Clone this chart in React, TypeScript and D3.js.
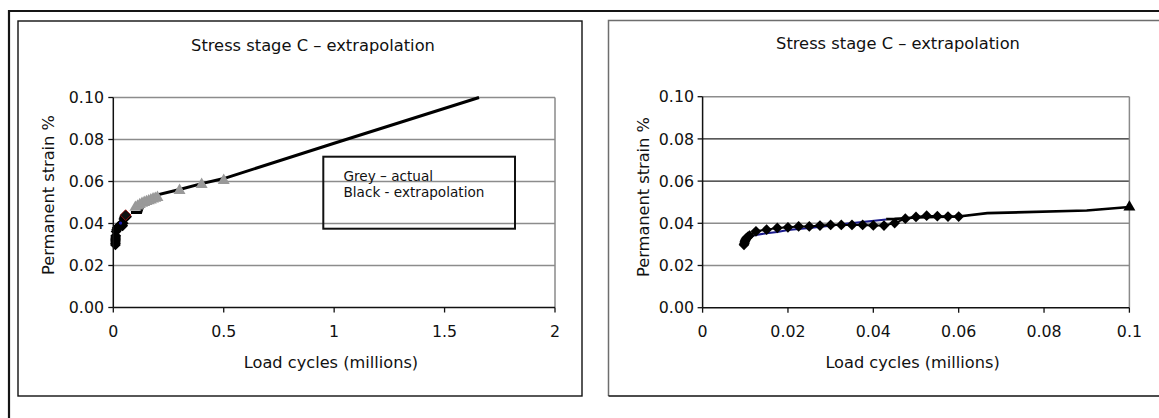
import React from 'react';
import * as d3 from 'd3';

// Axis ticks
const yTicks = [0, 0.02, 0.04, 0.06, 0.08, 0.1];
const leftXTicks = [0, 0.5, 1, 1.5, 2];
const rightXTicks = [0, 0.02, 0.04, 0.06, 0.08, 0.1];

// Measured permanent strain (black diamonds)
const measuredX = [0.0097, 0.0098, 0.0099, 0.01, 0.0101, 0.0103, 0.0106, 0.011,
  0.0125, 0.015, 0.0175, 0.02, 0.0225, 0.025, 0.0275, 0.03, 0.0325, 0.035, 0.0375, 0.04,
  0.0425, 0.045, 0.0475, 0.05, 0.0525, 0.055, 0.0575, 0.06];
const measuredY = [0.0298, 0.0305, 0.0312, 0.0318, 0.0324, 0.033, 0.0336, 0.0342,
  0.0362, 0.037, 0.0378, 0.0381, 0.0385, 0.0385, 0.0389, 0.0392, 0.0392, 0.0392, 0.0392, 0.039,
  0.0389, 0.0401, 0.0422, 0.043, 0.0436, 0.0434, 0.0432, 0.0432];

// Fitted curve (blue)
const fitX = [0.0098, 0.0105, 0.0115, 0.0125, 0.015, 0.0175, 0.02, 0.025, 0.03, 0.034, 0.043];
const fitY = [0.03, 0.0325, 0.0338, 0.0345, 0.0353, 0.0359, 0.0368, 0.0378, 0.0388, 0.0399, 0.0418];

// Actual long-term readings (grey triangles)
const actualX = [0.1, 0.11, 0.12, 0.13, 0.14, 0.15, 0.16, 0.17, 0.18, 0.19, 0.2, 0.3, 0.4, 0.5];
const actualY = [0.0477, 0.0483, 0.049, 0.0496, 0.05, 0.0504, 0.0508, 0.0512, 0.0517, 0.052, 0.0524, 0.0557, 0.0586, 0.0605];

// Extrapolation over the full range
const extrapLongX = [0.08, 0.124, 0.14, 0.181, 0.3, 0.4, 0.5, 1.0, 1.656];
const extrapLongY = [0.0452, 0.0452, 0.0505, 0.0532, 0.0562, 0.059, 0.0614, 0.0782, 0.1];

// Extrapolation over the early range
const extrapShortX = [0.043, 0.045, 0.0475, 0.05, 0.06, 0.0667, 0.09, 0.1];
const extrapShortY = [0.042, 0.0421, 0.0424, 0.0428, 0.0432, 0.0448, 0.0461, 0.0477];

// Point marked in red on the overview
const highlightX = [0.056];
const highlightY = [0.044];

const titleText = 'Stress stage C – extrapolation';
const xTitle = 'Load cycles (millions)';
const yTitle = 'Permanent strain %';
const legendLines = ['Grey – actual', 'Black - extrapolation'];

const FONT = 'Verdana, "DejaVu Sans", sans-serif';

type Pt = [number, number];
const zip = (xs: number[], ys: number[]): Pt[] => xs.map((x, i) => [x, ys[i]]);

const diamondPath = d3.symbol().type(d3.symbolSquare).size(58)()!;
const trianglePath = d3.symbol().type(d3.symbolTriangle).size(62)()!;

interface PanelProps {
  x0: number; x1: number; yTop: number; yBot: number;
  xDomain: [number, number];
  xTicks: number[];
  titlePos: [number, number];
  yTitlePos: [number, number];
  xTitlePos: [number, number];
  yLabelX: number;
  xLabelY: number;
  gridColor: (v: number) => string;
  gridWidth: (v: number) => number;
  children: (x: d3.ScaleLinear<number, number>, y: d3.ScaleLinear<number, number>) => React.ReactNode;
}

function Panel(p: PanelProps) {
  const x = d3.scaleLinear().domain(p.xDomain).range([p.x0, p.x1]);
  const y = d3.scaleLinear().domain([0, 0.1]).range([p.yBot, p.yTop]);
  const fy = d3.format('.2f');
  return (
    <g fontFamily={FONT} fill="#111">
      {yTicks.filter(v => v > 0).map(v => (
        <line key={'g' + v} x1={p.x0} x2={p.x1} y1={y(v)} y2={y(v)}
          stroke={p.gridColor(v)} strokeWidth={p.gridWidth(v)} />
      ))}
      <line x1={p.x1} x2={p.x1} y1={p.yTop} y2={p.yBot} stroke="#8a8a8a" strokeWidth={1.5} />
      {p.children(x, y)}
      <line x1={p.x0} x2={p.x0} y1={p.yTop} y2={p.yBot} stroke="#111" strokeWidth={1.5} />
      <line x1={p.x0} x2={p.x1} y1={p.yBot} y2={p.yBot} stroke="#111" strokeWidth={1.5} />
      {yTicks.map(v => (
        <g key={'y' + v}>
          <line x1={p.x0 - 5} x2={p.x0} y1={y(v)} y2={y(v)} stroke="#111" strokeWidth={1.3} />
          <text x={p.yLabelX} y={y(v)} dy="0.36em" textAnchor="end" fontSize={15.8}>{fy(v)}</text>
        </g>
      ))}
      {p.xTicks.map(v => (
        <g key={'x' + v}>
          <line x1={x(v)} x2={x(v)} y1={p.yBot} y2={p.yBot + 5} stroke="#111" strokeWidth={1.3} />
          <text x={x(v)} y={p.xLabelY} textAnchor="middle" fontSize={15.8}>{String(v)}</text>
        </g>
      ))}
      <text x={p.titlePos[0]} y={p.titlePos[1]} textAnchor="middle" fontSize={16.3}>{titleText}</text>
      <text x={p.xTitlePos[0]} y={p.xTitlePos[1]} textAnchor="middle" fontSize={16.2}>{xTitle}</text>
      <text transform={`translate(${p.yTitlePos[0]},${p.yTitlePos[1]}) rotate(-90)`} dy="0.36em"
        textAnchor="middle" fontSize={16.2}>{yTitle}</text>
    </g>
  );
}

export default function App() {
  const lineGen = (x: d3.ScaleLinear<number, number>, y: d3.ScaleLinear<number, number>) =>
    d3.line<Pt>().x(d => x(d[0])).y(d => y(d[1]));
  const measured = zip(measuredX, measuredY);
  const fit = zip(fitX, fitY);
  const actual = zip(actualX, actualY);
  const extrapLong = zip(extrapLongX, extrapLongY);
  const extrapShort = zip(extrapShortX, extrapShortY);
  const highlight = zip(highlightX, highlightY);

  return (
    <svg width={1159} height={418} style={{ position: 'absolute', left: 0, top: 0, background: '#fff' }}>
      <rect width={1159} height={418} fill="#fff" />
      {/* page frame */}
      <path d="M9,418 V11 H1159" fill="none" stroke="#151515" strokeWidth={2.2} />
      {/* chart frames */}
      <rect x={18} y={21} width={564} height={375} fill="none" stroke="#111" strokeWidth={1.4} />
      <path d="M1159,20.5 H608.5 V396" fill="none" stroke="#6e6e6e" strokeWidth={1.5} />
      <path d="M608.5,396 H1159" fill="none" stroke="#111" strokeWidth={1.5} />

      <Panel x0={113.3} x1={555} yTop={97.5} yBot={307.5} xDomain={[0, 2]} xTicks={leftXTicks}
        titlePos={[313, 50.5]} yTitlePos={[48.6, 195]} xTitlePos={[331, 368]}
        yLabelX={104} xLabelY={337}
        gridColor={() => '#8c8c8c'} gridWidth={() => 1.6}>
        {(x, y) => (
          <g>
            <path d={lineGen(x, y)(fit)!} fill="none" stroke="#1a1a8c" strokeWidth={2} />
            <path d={lineGen(x, y)(measured)!} fill="none" stroke="#000" strokeWidth={2.5} />
            {measured.map((d, i) => (
              <path key={'m' + i} d={diamondPath} transform={`translate(${x(d[0])},${y(d[1])}) rotate(45)`} fill="#000" />
            ))}
            {highlight.map((d, i) => (
              <path key={'h' + i} d={diamondPath} transform={`translate(${x(d[0])},${y(d[1])}) rotate(45)`}
                fill="#111" stroke="#a81010" strokeWidth={0.8} />
            ))}
            <circle cx={x(0.033)} cy={y(0.0402)} r={1.6} fill="#1a1ab0" />
            <path d={lineGen(x, y)(extrapLong)!} fill="none" stroke="#000" strokeWidth={3} />
            {actual.map((d, i) => (
              <path key={'a' + i} d={trianglePath} transform={`translate(${x(d[0])},${y(d[1])})`} fill="#999" />
            ))}
          </g>
        )}
      </Panel>

      {/* annotation box */}
      <g fontFamily={FONT}>
        <rect x={323.3} y={156.7} width={191.7} height={72} fill="none" stroke="#111" strokeWidth={2} />
        {legendLines.map((t, i) => (
          <text key={t} x={343.5} y={181 + i * 16.3} fontSize={13.6} fill="#111">{t}</text>
        ))}
      </g>

      <Panel x0={702.6} x1={1129.4} yTop={96.7} yBot={307.7} xDomain={[0, 0.1]} xTicks={rightXTicks}
        titlePos={[898, 49]} yTitlePos={[643, 197]} xTitlePos={[912.6, 368]}
        yLabelX={694} xLabelY={336.5}
        gridColor={v => (v === 0.08 || v === 0.06 ? '#222' : '#8c8c8c')}
        gridWidth={v => (v === 0.08 || v === 0.06 ? 1.1 : 1.6)}>
        {(x, y) => (
          <g>
            <path d={lineGen(x, y)(fit)!} fill="none" stroke="#1a1a8c" strokeWidth={2} />
            <path d={lineGen(x, y)(measured)!} fill="none" stroke="#000" strokeWidth={2} />
            <path d={lineGen(x, y)(extrapShort)!} fill="none" stroke="#000" strokeWidth={2.6} />
            {measured.map((d, i) => (
              <path key={'m' + i} d={diamondPath} transform={`translate(${x(d[0])},${y(d[1])}) rotate(45)`} fill="#000" />
            ))}
            {extrapShort.slice(-1).map((d, i) => (
              <path key={'t' + i} d={trianglePath} transform={`translate(${x(d[0])},${y(d[1])})`} fill="#000" />
            ))}
          </g>
        )}
      </Panel>
    </svg>
  );
}
